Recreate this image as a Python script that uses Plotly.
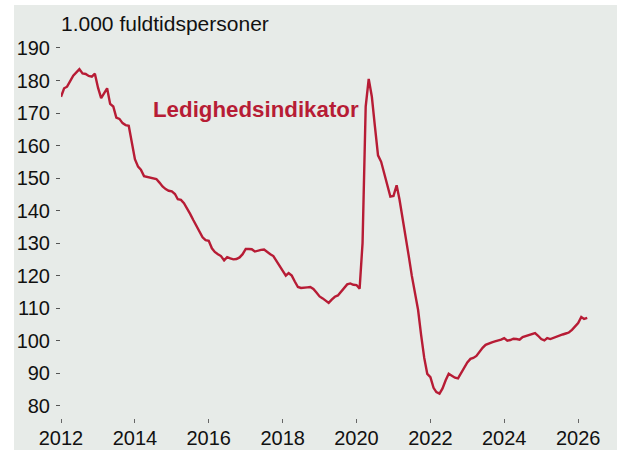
import plotly.graph_objects as go
import pandas as pd

# Monthly values, Jan 2012 - Apr 2026 (1.000 fuldtidspersoner)
start_month = "2012-01-01"
values = [
    175.0, 177.6, 178.1, 179.8, 181.5, 182.5, 183.5, 182.2, 182.0, 181.4, 181.2, 182.1,  # 2012
    177.8, 174.6, 176.1, 177.6, 172.8, 172.0, 168.6, 168.2, 166.9, 166.3, 166.1, 161.2,  # 2013
    155.8, 153.5, 152.6, 150.6, 150.4, 150.2, 150.0, 149.7, 148.6, 147.4, 146.6, 146.1,  # 2014
    145.9, 145.1, 143.5, 143.3, 142.3, 140.8, 139.0, 137.1, 135.3, 133.6, 131.8, 130.9,  # 2015
    130.7, 128.4, 127.3, 126.6, 126.0, 124.7, 125.7, 125.3, 125.0, 125.1, 125.6, 126.6,  # 2016
    128.2, 128.2, 128.1, 127.4, 127.7, 127.9, 128.0, 127.2, 126.6, 126.0, 124.4, 122.8,  # 2017
    121.6, 120.0, 120.8, 120.0, 118.2, 116.5, 116.2, 116.4, 116.4, 116.5, 115.9, 114.8,  # 2018
    113.6, 113.0, 112.4, 111.6, 112.6, 113.5, 113.9, 115.0, 116.2, 117.3, 117.6, 117.2,  # 2019
    117.1, 116.0, 130.0, 172.0, 180.5, 175.0, 166.0, 157.0, 155.0, 151.5, 148.4, 144.3,  # 2020
    144.5, 147.8, 143.5, 138.0, 131.5, 126.0, 120.0, 114.3, 109.5, 101.8, 94.7, 89.8,    # 2021
    88.8, 85.5, 84.2, 83.7, 85.3, 87.8, 89.8, 89.2, 88.6, 88.4, 90.1, 91.5,              # 2022
    93.3, 94.4, 94.7, 95.3, 96.7, 97.8, 98.7, 99.2, 99.5, 99.8, 100.0, 100.3,            # 2023
    100.8, 100.0, 100.2, 100.6, 100.5, 100.3, 101.1, 101.4, 101.9, 102.2, 102.3, 101.5,  # 2024
    100.5, 100.1, 100.8, 100.5, 100.9, 101.2, 101.6, 101.9, 102.2, 102.5, 103.3, 104.4,  # 2025
    105.4, 107.3, 106.7, 107.0,                                                          # 2026
]
dates = pd.date_range(start_month, periods=len(values), freq="MS")

y_tick_vals = [80, 90, 100, 110, 120, 130, 140, 150, 160, 170, 180, 190]
x_tick_years = ["2012", "2014", "2016", "2018", "2020", "2022", "2024", "2026"]

unit_label = "1.000 fuldtidspersoner"
series_label = "Ledighedsindikator"

RED = "#B71C35"
BG = "#E7EBE8"
FONT = "Arial, Liberation Sans, sans-serif"

fig = go.Figure()
fig.add_trace(go.Scatter(
    x=dates, y=values, mode="lines",
    line=dict(color=RED, width=2.4),
    hoverinfo="skip", showlegend=False,
))

L, R, T, B = 61, 610, 30, 418
W, H = 617, 450
pw, ph = R - L, B - T

fig.update_layout(
    width=W, height=H,
    margin=dict(l=L, r=W - R, t=T, b=H - B, pad=0, autoexpand=False),
    paper_bgcolor="white",
    plot_bgcolor=BG,
    font=dict(family=FONT, color="#111111"),
    showlegend=False,
    title=dict(
        text=unit_label, x=L / W, xanchor="left", xref="container",
        y=1 - 24 / H, yanchor="middle", yref="container",
        font=dict(size=21, family=FONT, color="#111111"),
        automargin=False,
    ),
)

# grey panel extending behind labels
fig.add_shape(
    type="rect", xref="paper", yref="paper", layer="below",
    x0=(14 - L) / pw, x1=(W + 2 - L) / pw,
    y0=(B - (H + 2)) / ph, y1=(B - 5) / ph,
    fillcolor=BG, line=dict(width=0),
)

fig.update_xaxes(
    range=["2012-01-01", "2026-11-12"],
    tickvals=[f"{y}-01-01" for y in x_tick_years],
    ticktext=x_tick_years,
    ticks="outside", ticklen=4, tickwidth=1, tickcolor="#666666",
    showgrid=False, zeroline=False, showline=False, automargin=False,
    tickfont=dict(size=20, family=FONT, color="#111111"),
    ticklabelstandoff=-2,
)
fig.update_yaxes(
    range=[76.22, 195.53],
    tickvals=y_tick_vals,
    ticks="outside", ticklen=4, tickwidth=1, tickcolor="#555555",
    showgrid=False, zeroline=False, showline=False, automargin=False,
    tickfont=dict(size=20, family=FONT, color="#111111"),
    ticklabelstandoff=2,
)

fig.add_annotation(
    text=f"<b>{series_label}</b>", xref="x", yref="y",
    x="2017-04-10", y=171.0, xanchor="center", yanchor="middle",
    showarrow=False, font=dict(size=22.3, family=FONT, color=RED),
)

fig.write_html(
    "out.html",
    config={"displayModeBar": False, "staticPlot": True},
    post_script="document.body.style.margin='0px';",
)
